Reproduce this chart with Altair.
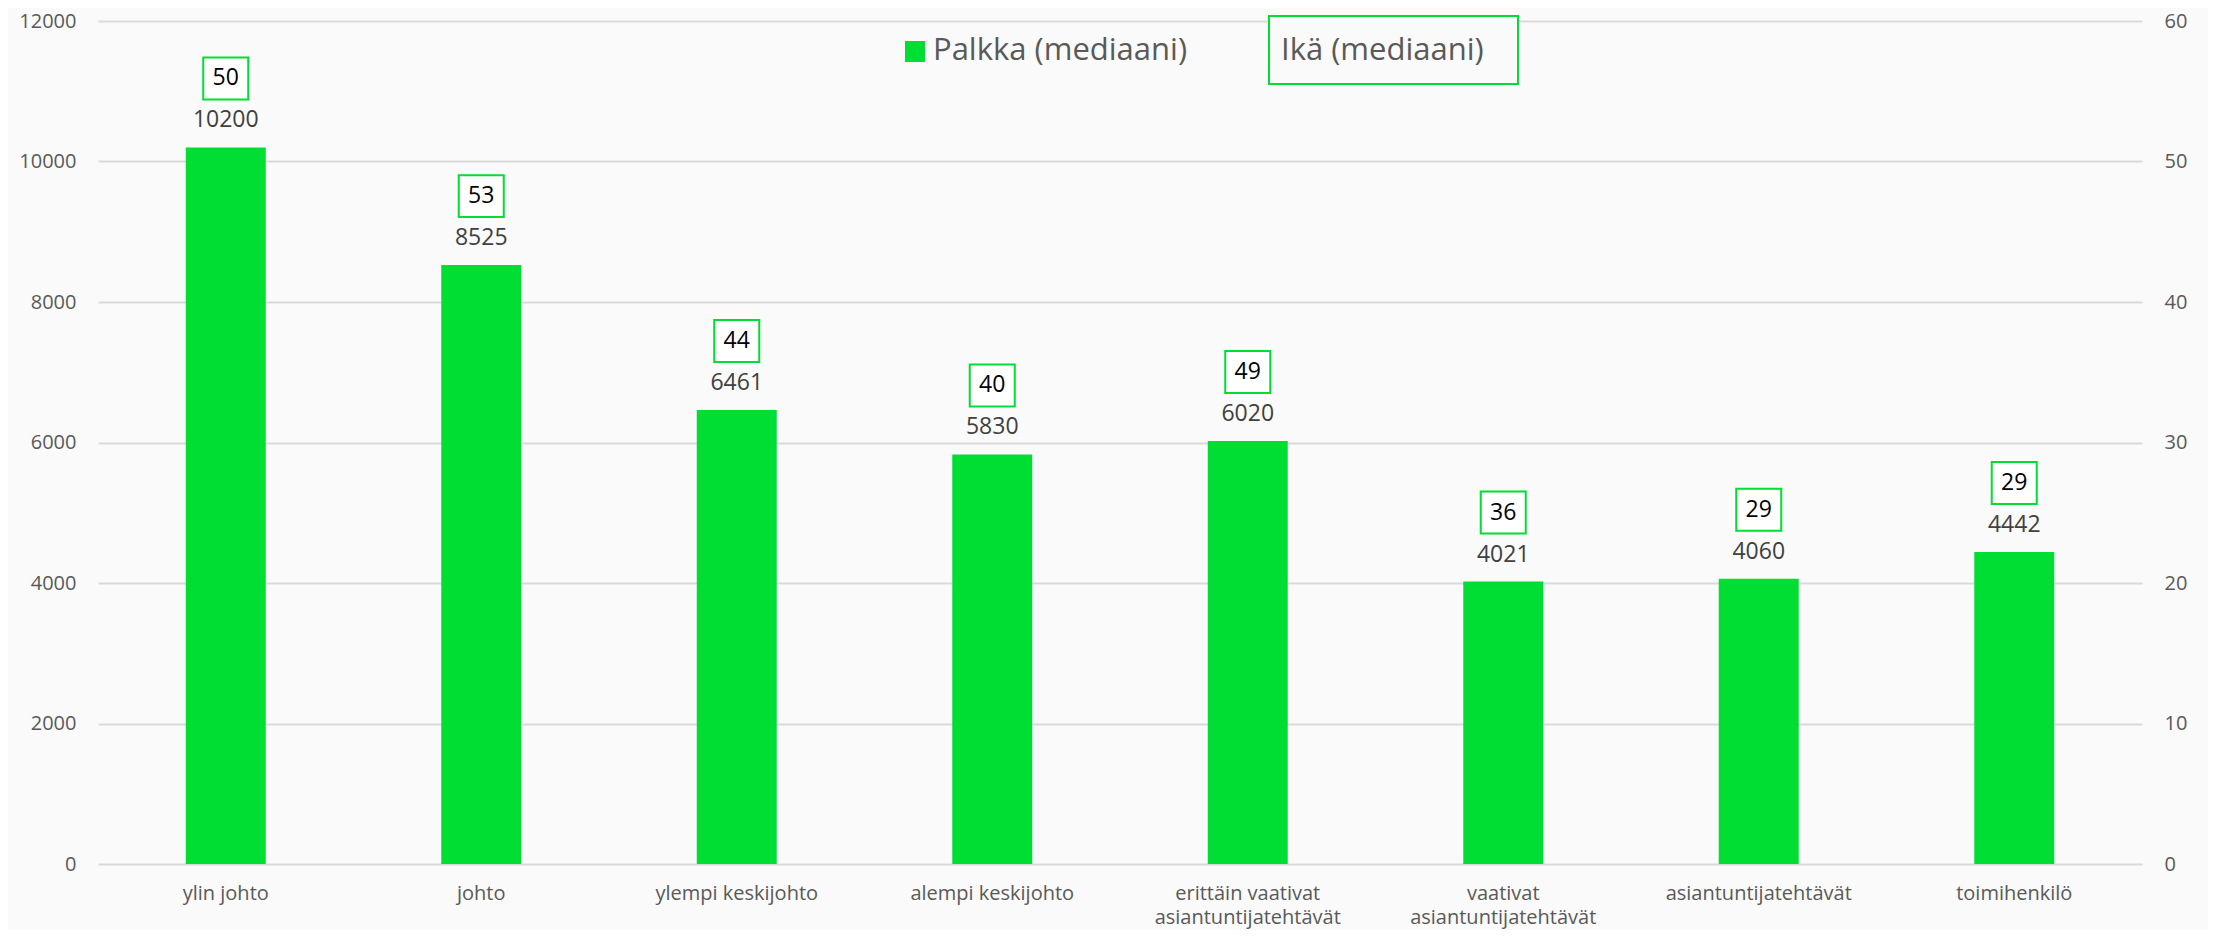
import altair as alt
import pandas as pd

categories = [
    "ylin johto",
    "johto",
    "ylempi keskijohto",
    "alempi keskijohto",
    "erittäin vaativat\nasiantuntijatehtävät",
    "vaativat\nasiantuntijatehtävät",
    "asiantuntijatehtävät",
    "toimihenkilö",
]
salary = [10200, 8525, 6461, 5830, 6020, 4021, 4060, 4442]
age = [50, 53, 44, 40, 49, 36, 29, 29]
left_ticks = [0, 2000, 4000, 6000, 8000, 10000, 12000]
right_ticks = [0, 10, 20, 30, 40, 50, 60]
legend_salary = "Palkka (mediaani)"
legend_age = "Ikä (mediaani)"

GREEN = "#00DD33"
FONT = "Open Sans"
LABEL_COLOR = "#595959"

df = pd.DataFrame({"cat": categories, "salary": salary, "age": age})

x_enc = alt.X(
    "cat:N",
    sort=categories,
    title=None,
    scale=alt.Scale(paddingInner=0.687, paddingOuter=0.3435),
    axis=alt.Axis(
        labelAngle=0,
        labelFontSize=20,
        labelColor=LABEL_COLOR,
        labelFont=FONT,
        labelPadding=19,
        labelLineHeight=24,
        labelLimit=0,
        labelExpr="split(datum.label, '\\n')",
        domain=False,
        ticks=False,
        grid=False,
    ),
)

y_enc = alt.Y(
    "salary:Q",
    title=None,
    scale=alt.Scale(domain=[0, 12000], nice=False),
    axis=alt.Axis(
        values=left_ticks,
        format="d",
        labelFontSize=20,
        labelColor=LABEL_COLOR,
        labelFont=FONT,
        labelPadding=22,
        domain=False,
        ticks=False,
        grid=True,
        gridColor="#D9D9D9",
        gridWidth=2,
    ),
)

base = alt.Chart(df)

bars = base.mark_bar(color=GREEN).encode(x=x_enc, y=y_enc)

bar_labels = base.mark_text(
    dy=-27, fontSize=23, color="#404040", font=FONT, baseline="middle"
).encode(x=x_enc, y=y_enc, text=alt.Text("salary:Q", format="d"))

box_path = "M-1,-0.933L1,-0.933L1,0.933L-1,0.933Z"
age_boxes = base.mark_point(
    shape=box_path,
    size=2025,
    fill="white",
    stroke=GREEN,
    strokeWidth=2,
    opacity=1,
    filled=False,
    yOffset=-69,
).encode(x=x_enc, y=y_enc)

age_text = base.mark_text(
    dy=-69, fontSize=23, color="#000000", font=FONT, baseline="middle"
).encode(x=x_enc, y=y_enc, text=alt.Text("age:Q", format="d"))

leg_df = pd.DataFrame({"a": [legend_salary]})
leg_square = alt.Chart(leg_df).mark_rect(color=GREEN).encode(
    x=alt.value(807), x2=alt.value(827), y=alt.value(20), y2=alt.value(41)
)
leg_text1 = alt.Chart(leg_df).mark_text(
    align="left", baseline="middle", fontSize=31, color=LABEL_COLOR, font=FONT
).encode(x=alt.value(835), y=alt.value(30), text=alt.value(legend_salary))
leg_box = alt.Chart(leg_df).mark_rect(
    fill="#FAFAFA", stroke=GREEN, strokeWidth=2
).encode(x=alt.value(1171), x2=alt.value(1420), y=alt.value(-5), y2=alt.value(63))
leg_text2 = alt.Chart(leg_df).mark_text(
    align="left", baseline="middle", fontSize=31, color=LABEL_COLOR, font=FONT
).encode(x=alt.value(1183), y=alt.value(30), text=alt.value(legend_age))

left = alt.layer(bars, bar_labels, age_boxes, age_text, leg_square, leg_text1, leg_box, leg_text2)

right = base.mark_point(opacity=0).encode(
    x=x_enc,
    y=alt.Y(
        "age:Q",
        title=None,
        scale=alt.Scale(domain=[0, 60], nice=False),
        axis=alt.Axis(
            orient="right",
            values=right_ticks,
            format="d",
            labelFontSize=20,
            labelColor=LABEL_COLOR,
            labelFont=FONT,
            labelPadding=22,
            domain=False,
            ticks=False,
            grid=False,
        ),
    ),
)

chart = (
    alt.layer(left, right)
    .resolve_scale(y="independent")
    .properties(
        width=2044,
        height=843,
        autosize=alt.AutoSizeParams(type="none"),
        padding={"left": 90, "top": 13, "right": 66, "bottom": 66},
        background="#FAFAFA",
    )
    .configure_view(stroke=None)
)

chart.save("out.html", embed_options={"renderer": "svg", "actions": False})
